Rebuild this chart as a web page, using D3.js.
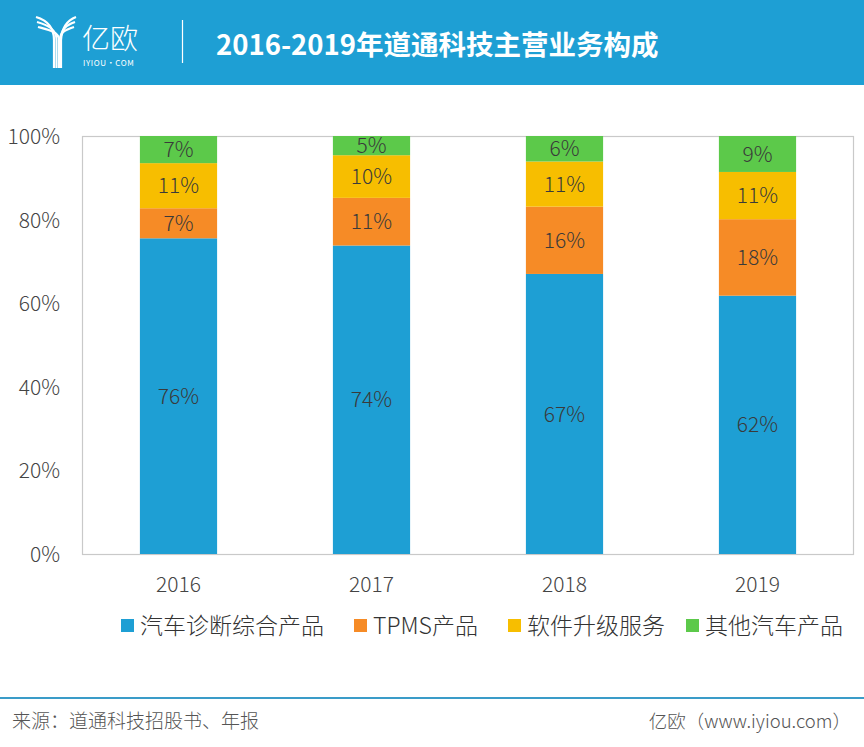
<!DOCTYPE html>
<html><head><meta charset="utf-8">
<script src="https://cdn.jsdelivr.net/npm/d3@7"></script>
<style>
html,body{margin:0;padding:0;background:#fff;}
svg{display:block;}
text{font-family:"Noto Sans CJK SC","Noto Sans",sans-serif;}
</style></head>
<body>
<svg id="chart" width="864" height="747"></svg>
<script>
const years = ["2016","2017","2018","2019"];
const seriesNames = ["汽车诊断综合产品","TPMS产品","软件升级服务","其他汽车产品"];
const diagnostic = [75.6, 73.8, 67.0, 61.8];
const tpms = [7.2, 11.4, 16.1, 18.3];
const software = [10.8, 10.2, 10.8, 11.3];
const other = [6.5, 4.6, 6.1, 8.6];
const colors = ["#1E9FD4","#F68B26","#F7BE00","#5CC94A"];
const yTicks = [0, 0.2, 0.4, 0.6, 0.8, 1.0];
const titleText = "2016-2019年道通科技主营业务构成";
const sourceText = "来源：道通科技招股书、年报";
const creditText = "亿欧（www.iyiou.com）";

const svg = d3.select("#chart");
const W = 864, H = 747;

// header
svg.append("rect").attr("x",0).attr("y",0).attr("width",W).attr("height",85).attr("fill","#1E9FD4");
// logo
const logo = svg.append("g").attr("fill","none").attr("stroke","#fff").attr("stroke-width",2.2).attr("stroke-linecap","butt");
[0,5,10].forEach(o=>{
  logo.append("path").attr("d",`M${36+o*0.2},${17+o} C${46+o*0.3},${20+o} ${54+o*0.5},${26+o*0.6} ${54+o*0.5},${40} L${54+o*0.5},68`);
});
[0,5,10].forEach(o=>{
  logo.append("path").attr("d",`M${76-o*0.2},${17+o} C${68-o*0.3},${20+o} ${62-o*0.2},${26+o*0.6} ${61-o*0.1},${40} L${61-o*0.1},68`);
});
svg.append("text").attr("x",82).attr("y",49).attr("fill","#fff").attr("font-size",28).attr("font-weight",300).text("亿欧");
svg.append("text").attr("x",83).attr("y",66).attr("fill","#fff").attr("font-size",8).attr("letter-spacing",0.6).text("IYIOU·COM");
svg.append("line").attr("x1",182.5).attr("x2",182.5).attr("y1",20).attr("y2",63).attr("stroke","#fff").attr("stroke-width",1.2);
svg.append("text").attr("x",216).attr("y",55).attr("fill","#fff").attr("font-size",27.5).attr("font-weight",700).text(titleText);

// plot
const plot = {left:82, right:854, top:136, bottom:554};
const x = d3.scaleBand().domain(years).range([plot.left, plot.right]).paddingInner(0.6).paddingOuter(0.3);
const y = d3.scaleLinear().domain([0,1]).range([plot.bottom, plot.top]);

svg.append("rect").attr("x",plot.left+0.5).attr("y",plot.top+0.5).attr("width",plot.right-plot.left-1).attr("height",plot.bottom-plot.top)
  .attr("fill","none").attr("stroke","#c9c9c9").attr("stroke-width",1.2);

const rows = years.map((yr,i)=>{
  const vals = [diagnostic[i], tpms[i], software[i], other[i]];
  const total = d3.sum(vals);
  const o = {year: yr};
  seriesNames.forEach((s,j)=>{o[s] = vals[j]/total; o["raw"+j] = vals[j];});
  return o;
});
const stacked = d3.stack().keys(seriesNames)(rows);

const gBars = svg.append("g");
stacked.forEach((layer, j)=>{
  gBars.selectAll(null).data(layer).enter().append("rect")
    .attr("x", d=>x(d.data.year))
    .attr("width", x.bandwidth())
    .attr("y", d=>y(d[1]))
    .attr("height", d=>y(d[0])-y(d[1]))
    .attr("fill", colors[j]);
  gBars.selectAll(null).data(layer).enter().append("text")
    .attr("x", d=>x(d.data.year)+x.bandwidth()/2)
    .attr("y", d=>(y(d[0])+y(d[1]))/2)
    .attr("dy","0.36em")
    .attr("text-anchor","middle")
    .attr("font-size",21).attr("font-weight",300).attr("fill","#3a3a3a")
    .text(d=>Math.round(d.data["raw"+j])+"%");
});

// y axis
const yAxis = d3.axisLeft(y).tickValues(yTicks).tickSize(0).tickPadding(0).tickFormat(d=>Math.round(d*100)+"%");
const gy = svg.append("g").attr("transform",`translate(60,0)`).call(yAxis);
gy.select(".domain").remove();
gy.selectAll("text").attr("font-size",21).attr("font-weight",300).attr("fill","#444").attr("font-family",'"Noto Sans CJK SC",sans-serif').attr("dy","0.36em");

// x axis
const xAxis = d3.axisBottom(x).tickSize(0).tickPadding(0);
const gx = svg.append("g").attr("transform",`translate(0,584)`).call(xAxis);
gx.select(".domain").remove();
gx.selectAll("text").attr("font-size",21).attr("font-weight",300).attr("fill","#444").attr("font-family",'"Noto Sans CJK SC",sans-serif').attr("dy","0.36em");

// legend
const legendX = [121, 354, 508, 686];
const lg = svg.append("g");
seriesNames.forEach((s,j)=>{
  lg.append("rect").attr("x",legendX[j]).attr("y",619).attr("width",13).attr("height",13).attr("fill",colors[j]);
  lg.append("text").attr("x",legendX[j]+19).attr("y",626).attr("dy","0.36em").attr("font-size",23).attr("font-weight",300).attr("fill","#333").text(s);
});

// footer
svg.append("line").attr("x1",0).attr("x2",W).attr("y1",698).attr("y2",698).attr("stroke","#3a9cc8").attr("stroke-width",2);
svg.append("text").attr("x",12).attr("y",721).attr("dy","0.36em").attr("font-size",19).attr("font-weight",300).attr("fill","#555").text(sourceText);
svg.append("text").attr("x",851).attr("y",721).attr("dy","0.36em").attr("text-anchor","end").attr("font-size",18.5).attr("font-weight",300).attr("fill","#555").text(creditText);
</script>
</body></html>
